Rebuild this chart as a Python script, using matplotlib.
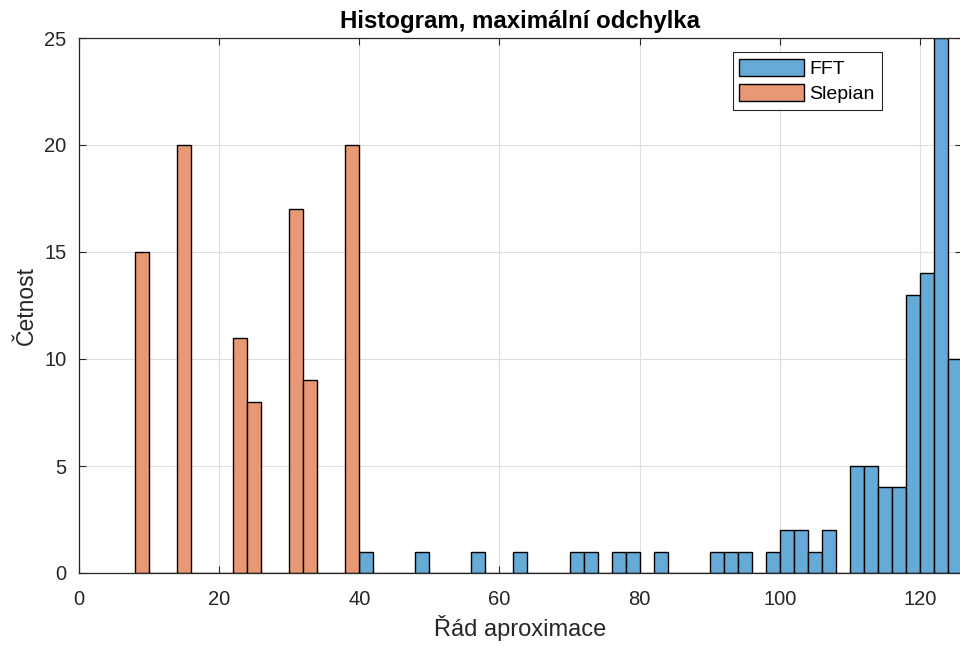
import numpy as np
import matplotlib.pyplot as plt

plt.rcParams['font.family'] = ['Liberation Sans', 'DejaVu Sans']

# histogram bins are 2 wide; left edges and counts per bin
slepian_left = np.arange(8, 40, 2)
slepian_counts = [15, 0, 0, 20, 0, 0, 0, 11, 8, 0, 0, 17, 9, 0, 0, 20]

fft_left = np.arange(40, 126, 2)
fft_counts = [1, 0, 0, 0, 1, 0, 0, 0, 1, 0, 0, 1, 0, 0, 0, 1, 1, 0, 1, 1, 0, 1,
              0, 0, 0, 1, 1, 1, 0, 1, 2, 2, 1, 2, 0, 5, 5, 4, 4, 13, 14, 25, 10]

bin_w = 2
fft_color = '#66aad7'
slepian_color = '#e89875'
dark = '#262626'

fig = plt.figure(figsize=(9.6, 6.46), dpi=100)
ax = fig.add_axes([79/960, 73/646, 1 - 79/960 + 0.002, (573 - 38)/646])

ax.bar(fft_left, fft_counts, width=bin_w, align='edge', color=fft_color,
       edgecolor='black', linewidth=1.0, label='FFT', zorder=3)
ax.bar(slepian_left, slepian_counts, width=bin_w, align='edge', color=slepian_color,
       edgecolor='black', linewidth=1.0, label='Slepian', zorder=3)

ax.set_xlim(0, 126)
ax.set_ylim(0, 25)
ax.set_xticks(np.arange(0, 121, 20))
ax.set_yticks(np.arange(0, 26, 5))

ax.grid(True, color='#dedede', linewidth=0.8, zorder=0)
ax.set_axisbelow(True)
ax.tick_params(direction='in', top=True, right=True, length=5, width=0.8,
               labelsize=14.5, colors=dark)
ax.tick_params(axis='x', pad=12.5)
ax.tick_params(axis='y', pad=9)
for s in ax.spines.values():
    s.set_color(dark)
    s.set_linewidth(0.9)
    s.set_zorder(4)

ax.set_title('Histogram, maximální odchylka', fontsize=17.3, fontweight='bold',
             color='black', pad=7)
ax.set_xlabel('Řád aproximace', fontsize=17, color=dark, labelpad=4)
ax.set_ylabel('Četnost', fontsize=16.5, color=dark, labelpad=4.5)

leg = ax.legend(loc='upper right', bbox_to_anchor=(0.909, 0.974), fontsize=14,
                frameon=True, fancybox=False, edgecolor=dark, framealpha=1,
                handlelength=3.3, handleheight=1.0, borderpad=0.35,
                labelspacing=0.3, handletextpad=0.3, borderaxespad=0)
leg.get_frame().set_linewidth(0.8)

fig.savefig('out.png', dpi=100)
